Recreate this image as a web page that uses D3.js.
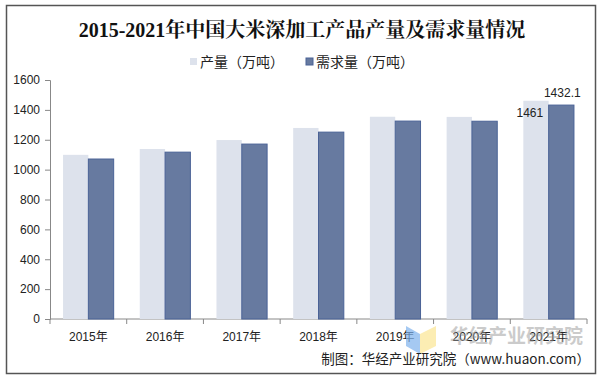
<!DOCTYPE html>
<html>
<head>
<meta charset="utf-8">
<script src="https://cdn.jsdelivr.net/npm/d3@7"></script>
<style>
  body { margin: 0; background: #fff; }
  svg text { font-family: "Liberation Sans", Arial, "Noto Sans CJK SC", sans-serif; }
</style>
</head>
<body>
<div id="chart"></div>
<script>
const years = ["2015年", "2016年", "2017年", "2018年", "2019年", "2020年", "2021年"];
const production = [1099, 1138, 1198, 1279, 1354, 1353, 1461];
const demand = [1071, 1117, 1171, 1251, 1325, 1324, 1432.1];
const yTicks = [0, 200, 400, 600, 800, 1000, 1200, 1400, 1600];
const seriesNames = ["产量（万吨）", "需求量（万吨）"];

const width = 604, height = 380;
const margin = { top: 80, right: 17, bottom: 61, left: 50 };

const svg = d3.select("#chart").append("svg")
  .attr("width", width).attr("height", height);

svg.append("rect")
  .attr("x", 6.5).attr("y", 5.5).attr("width", 589).attr("height", 368)
  .attr("fill", "#fff").attr("stroke", "#555").attr("stroke-width", 1.5);

svg.append("text")
  .attr("x", 302).attr("y", 37).attr("text-anchor", "middle")
  .style("font-family", "'Liberation Serif', 'Noto Serif CJK SC', 'Noto Sans CJK SC', serif")
  .attr("font-size", 20).attr("font-weight", "bold").attr("fill", "#111")
  .text("2015-2021年中国大米深加工产品产量及需求量情况");

const x = d3.scaleBand().domain(years)
  .range([margin.left, width - margin.right]).paddingInner(0.34).paddingOuter(0.17);
const x1 = d3.scaleBand().domain([0, 1]).range([0, x.bandwidth()]);
const y = d3.scaleLinear().domain([0, 1600]).range([height - margin.bottom, margin.top]);

const colors = ["#dde2ec", "#677aa0"];

// LEGEND
const legend = svg.append("g").attr("font-size", 14).attr("fill", "#222");
const legendX = [190, 306];
seriesNames.forEach((name, i) => {
  legend.append("rect").attr("x", legendX[i]).attr("y", 58).attr("width", 7).attr("height", 7)
    .attr("fill", colors[i]).attr("stroke", i ? "#4a6296" : "none");
  legend.append("text").attr("x", legendX[i] + 10).attr("y", 67)
    .style("font-family", "'Noto Sans CJK SC', sans-serif").text(name);
});

// AXES
const yAxis = svg.append("g")
  .attr("transform", `translate(${margin.left},0)`)
  .call(d3.axisLeft(y).tickValues(yTicks).tickSize(5).tickPadding(5).tickFormat(d3.format("d")));
yAxis.select(".domain").attr("stroke", "#888");
yAxis.selectAll(".tick line").attr("stroke", "#888");
yAxis.selectAll("text").attr("font-size", 12).attr("fill", "#222")
  .style("font-family", "'Liberation Sans', Arial, sans-serif");

const xAxis = svg.append("g")
  .attr("transform", `translate(0,${y(0)})`);
xAxis.append("line").attr("x1", margin.left).attr("x2", width - margin.right)
  .attr("stroke", "#888");
const step = x.step();
d3.range(years.length + 1).forEach(i => {
  const xx = margin.left + i * step;
  xAxis.append("line").attr("x1", xx).attr("x2", xx).attr("y1", 0).attr("y2", 5).attr("stroke", "#888");
});
xAxis.selectAll("text.cat").data(years).join("text")
  .attr("class", "cat")
  .attr("x", d => x(d) + x.bandwidth() / 2).attr("y", 22)
  .attr("text-anchor", "middle").attr("font-size", 12).attr("fill", "#222")
  .text(d => d);

// BARS
const groups = svg.append("g");
[production, demand].forEach((vals, s) => {
  groups.selectAll(`rect.s${s}`).data(vals).join("rect")
    .attr("class", `s${s}`)
    .attr("x", (d, i) => x(years[i]) + x1(s))
    .attr("y", d => y(d))
    .attr("width", x1.bandwidth())
    .attr("height", d => y(0) - y(d))
    .attr("fill", colors[s])
    .attr("stroke", s ? "#4a6296" : "none").attr("stroke-width", 1);
});

// LABELS on last year only
const last = years.length - 1;
svg.append("text")
  .attr("x", x(years[last]) + x1(0) + 6.5).attr("y", y(production[last]) + 16)
  .attr("text-anchor", "middle").attr("font-size", 12).attr("fill", "#222")
  .text(production[last]);
svg.append("text")
  .attr("x", x(years[last]) + x1(1) + x1.bandwidth() / 2 + 1).attr("y", y(demand[last]) - 8)
  .attr("text-anchor", "middle").attr("font-size", 12).attr("fill", "#222")
  .text(demand[last]);

// WATERMARK
const wm = svg.append("g");
wm.append("polygon").attr("points", "406,326 420,334 420,354 406,346").attr("fill", "#7fb2ec").attr("opacity", 0.7);
wm.append("polygon").attr("points", "420,334 436,326 436,346 420,354").attr("fill", "#fbe9a0").attr("opacity", 0.8);
wm.append("text").attr("x", 450).attr("y", 343)
  .style("font-family", "'Noto Sans CJK SC', sans-serif")
  .attr("font-size", 19).attr("font-weight", "bold").attr("fill", "#999").attr("opacity", 0.5)
  .text("华经产业研究院");

svg.append("text")
  .attr("x", 590).attr("y", 364).attr("text-anchor", "end")
  .style("font-family", "'Noto Sans CJK SC', sans-serif")
  .attr("font-size", 13.5).attr("fill", "#222")
  .text("制图：华经产业研究院（www.huaon.com）");
</script>
</body>
</html>
